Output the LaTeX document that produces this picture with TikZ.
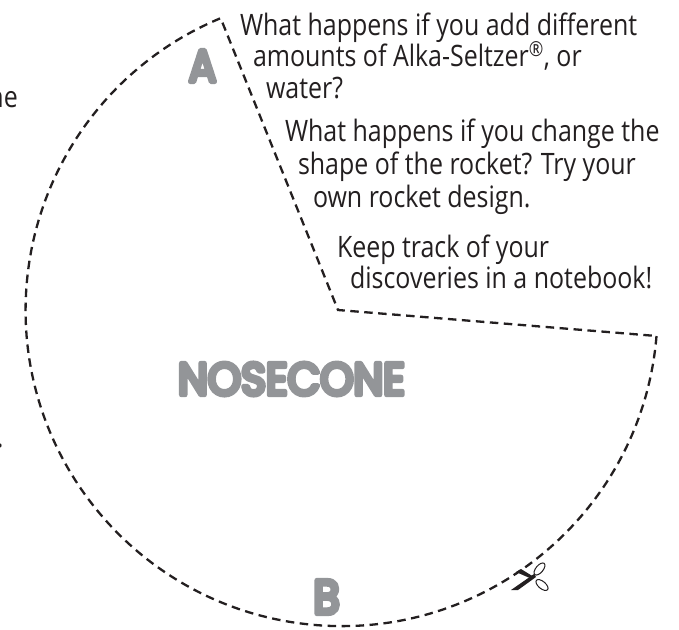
\documentclass[tikz,border=0pt]{standalone}
\usepackage{fontspec}
\usepackage{graphicx}
\setmainfont{Open Sans}[FakeStretch=0.846]
\newfontfamily\bubble{Poppins}
\newcommand\puffy[2]{\special{pdf:code #1 w 1 j 1 J 2 Tr}#2\special{pdf:code 1 w 0 j 0 J 0 Tr}}
\definecolor{ink}{HTML}{231F20}
\definecolor{bubblegray}{HTML}{939598}
\tikzset{
  cutline/.style={draw=ink,line width=2.3pt,dash pattern=on 8.5pt off 5.5pt},
  body/.style={anchor=base west,inner sep=0pt,outer sep=0pt,text=ink,font=\fontsize{29.5pt}{29.5pt}\selectfont},
  bubbletext/.style={inner sep=0pt,outer sep=0pt,text=bubblegray,font=\bubble\fontsize{45pt}{45pt}\selectfont},
  snips/.style={draw=ink,line width=1pt},
}
\begin{document}
\begin{tikzpicture}[x=1pt,y=-1pt]
\useasboundingbox (0,0) rectangle (679,629);
\coordinate (center) at (338,310);
\coordinate (tip) at (217,18);
\coordinate (rim) at (656.5,336);
\draw[cutline] (rim) arc[start angle=4.7,end angle=247.5,radius=316] -- (center) -- (rim);
% left margin text fragments
\node[body] (frag1) at (-11.5,107) {ne};
\node[body] (frag2) at (-3,447) {.};
% questions
\node[body] (q1a) at (240,35) {What happens if you add different};
\node[body] (q1b) at (253,66) {amounts of Alka-Seltzer\textsuperscript{®}, or};
\node[body] (q1c) at (266,98) {water?};
\node[body] (q2a) at (285,141) {What happens if you change the};
\node[body] (q2b) at (298,174) {shape of the rocket? Try your};
\node[body] (q2c) at (313,207) {own rocket design.};
\node[body] (q3a) at (337,257) {Keep track of your};
\node[body] (q3b) at (350,288) {discoveries in a notebook!};
% bubble labels
\node[bubbletext] (labA) at (202.5,66) {\scalebox{.9}[1]{\puffy{5}{A}}};
\node[bubbletext] (labB) at (326.5,597) {\scalebox{.95}[1.05]{\puffy{5}{B}}};
\node[bubbletext] (labN) at (291.5,379) {\scalebox{.94}[1]{\puffy{5}{NOSECONE}}};
% scissors
\fill[ink] (511,590) -- (534,574) -- (536,577) -- (518,590) -- cycle;
\fill[ink] (516,572) -- (521,569) -- (534,577) -- (532,579) -- cycle;
\draw[snips,rotate around={50:(539.5,569)}] (539.5,569) ellipse[x radius=7.3,y radius=3.6];
\draw[snips,rotate around={-40:(542,585)}] (542,585) ellipse[x radius=7.3,y radius=3.6];
\end{tikzpicture}
\end{document}
